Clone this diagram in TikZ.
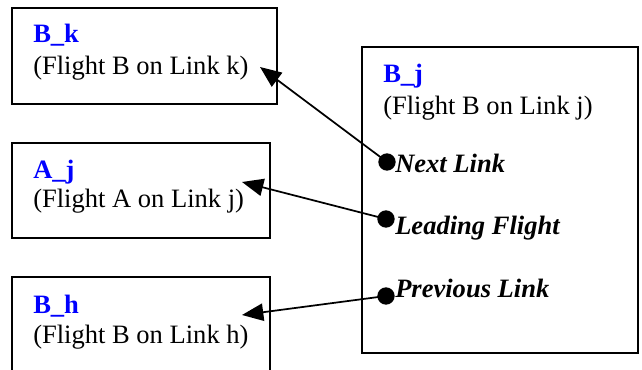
\documentclass[tikz,border=0pt]{standalone}
\usepackage{fontspec}
\setmainfont{Liberation Serif}
\usetikzlibrary{arrows.meta}
\tikzset{
  box/.style={line width=1.4pt},
  head/.style={font=\fontsize{19.9}{24}\selectfont\bfseries, text=blue, anchor=base west, inner sep=0pt},
  sub/.style={font=\fontsize{19.9}{24}\selectfont, anchor=base west, inner sep=0pt},
  field/.style={font=\fontsize{19.9}{24}\selectfont\bfseries\itshape, anchor=base west, inner sep=0pt},
  dot/.style={circle, fill=black, inner sep=0pt, minimum size=13pt},
  link/.style={line width=1.3pt, -{Triangle[length=16pt,width=13pt]}}
}
\begin{document}
\begin{tikzpicture}[x=0.75pt,y=-0.75pt]
\useasboundingbox (0,0) rectangle (642,370);
\clip (0,0) rectangle (642,370);
\draw [box] (12,8) rectangle (277,104);
\draw [box] (12,143) rectangle (270,238);
\draw [box] (12,277) rectangle (270,390);
\draw [box] (362,47) rectangle (638,353);
\node [head] (bkh) at (33,43) {B\_k};
\node [sub] (bks) at (33,75) {(Flight B on Link k)};
\node [head] (ajh) at (33,179) {A\_j};
\node [sub] (ajs) at (33,208) {(Flight A on Link j)};
\node [head] (bhh) at (33,313) {B\_h};
\node [sub] (bhs) at (33,343) {(Flight B on Link h)};
\node [head] (bjh) at (383,83) {B\_j};
\node [sub] (bjs) at (383,115) {(Flight B on Link j)};
\node [field] (next) at (395,173) {Next Link};
\node [field] (lead) at (395,235) {Leading Flight};
\node [field] (prev) at (395,297) {Previous Link};
\node [dot] (nd) at (387,162) {};
\node [dot] (ld) at (386,219) {};
\node [dot] (pd) at (386,296) {};
\coordinate (bktip) at (260,67);
\coordinate (ajtip) at (242,182);
\coordinate (bhtip) at (242,315);
\draw [link] (nd.center) -- (bktip);
\draw [link] (ld.center) -- (ajtip);
\draw [link] (pd.center) -- (bhtip);
\end{tikzpicture}
\end{document}
